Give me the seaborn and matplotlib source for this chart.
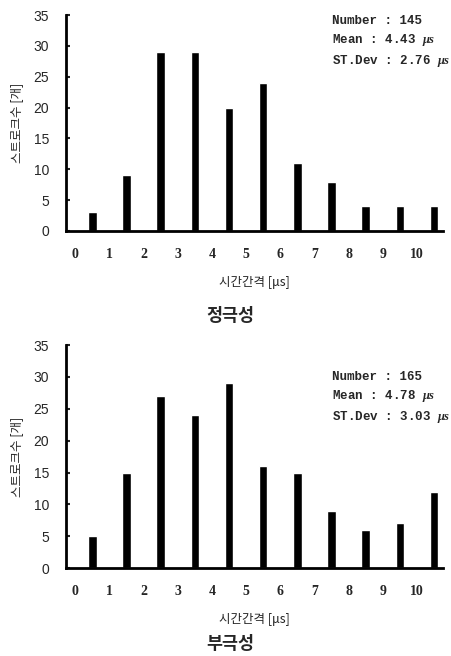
import matplotlib
matplotlib.use("Agg")
import matplotlib.pyplot as plt
import seaborn as sns

# 데이터
centers = [0.5, 1.5, 2.5, 3.5, 4.5, 5.5, 6.5, 7.5, 8.5, 9.5, 10.5]
pos_counts = [3, 9, 29, 29, 20, 24, 11, 8, 4, 4, 4]
neg_counts = [5, 15, 27, 24, 29, 16, 15, 9, 6, 7, 12]
xticks = [0, 1, 2, 3, 4, 5, 6, 7, 8, 9, 10]
yticks = [0, 5, 10, 15, 20, 25, 30, 35]
pos_stats = ["Number : 145", r"Mean : 4.43 $\mu s$", r"ST.Dev : 2.76 $\mu s$"]
neg_stats = ["Number : 165", r"Mean : 4.78 $\mu s$", r"ST.Dev : 3.03 $\mu s$"]

sns.set_style("white")
plt.rcParams['font.family'] = ['Noto Sans CJK KR', 'DejaVu Sans']
plt.rcParams['mathtext.fontset'] = 'custom'
plt.rcParams['mathtext.it'] = 'Liberation Serif:italic:bold'
plt.rcParams['mathtext.rm'] = 'Liberation Serif:bold'

fig = plt.figure(figsize=(4.52, 6.56), dpi=100)
ax1 = fig.add_axes([0.146, 0.648, 0.834, 0.329])
ax2 = fig.add_axes([0.146, 0.134, 0.834, 0.340])


def draw(ax, counts, stats, text_y):
    sns.barplot(x=centers, y=counts, native_scale=True, width=0.25,
                color="black", saturation=1, ax=ax)
    ax.set_xlim(-0.27, 10.76)
    ax.set_ylim(0, 35)
    ax.set_xticks(xticks)
    ax.set_xticklabels([str(t) for t in xticks], family="Liberation Serif",
                       fontweight="bold", fontsize=10)
    ax.set_yticks(yticks)
    ax.set_yticklabels([str(t) for t in yticks], family="Liberation Sans",
                       fontsize=10)
    ax.tick_params(axis="x", length=0, pad=12)
    ax.tick_params(axis="y", direction="in", length=3, width=1.5, pad=12,
                   left=True)
    for s in ["top", "right"]:
        ax.spines[s].set_visible(False)
    for s in ["left", "bottom"]:
        ax.spines[s].set_linewidth(2)
        ax.spines[s].set_color("black")
    ax.set_ylabel("스트로크수 [개]", fontsize=9, labelpad=8)
    ax.set_xlabel("시간간격 [μs]", fontsize=9, labelpad=11)
    ax.text(0.706, text_y, "\n".join(stats), transform=ax.transAxes,
            ha="left", va="top", family="Liberation Mono",
            fontweight="bold", fontsize=9, linespacing=1.45)


draw(ax1, pos_counts, pos_stats, 1.0)
draw(ax2, neg_counts, neg_stats, 0.885)

fig.text(0.51, 0.518, "정극성", ha="center", va="center", fontsize=12.5,
         fontweight="bold")
fig.text(0.51, 0.018, "부극성", ha="center", va="center", fontsize=12.5,
         fontweight="bold")

fig.savefig("out.png", dpi=100)
